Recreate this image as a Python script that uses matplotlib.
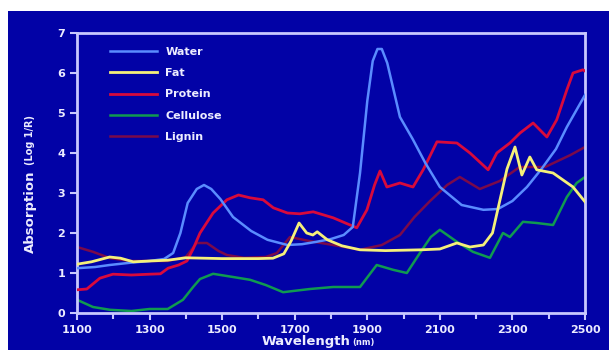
import matplotlib
matplotlib.use("Agg")
import matplotlib.pyplot as plt
from matplotlib.patches import Rectangle
from matplotlib.ticker import MultipleLocator

water_x = [1100, 1150, 1190, 1250, 1300, 1340, 1365, 1385, 1405, 1430, 1450, 1470, 1495, 1530, 1580,
           1625, 1680, 1720, 1760, 1800, 1835, 1860, 1880, 1900, 1915, 1928, 1940, 1955, 1990, 2025, 2060,
           2100, 2160, 2220, 2260, 2300, 2340, 2380, 2420, 2450, 2500]
water_y = [1.12, 1.15, 1.2, 1.26, 1.3, 1.35, 1.5, 2.0, 2.75, 3.1, 3.2, 3.1, 2.85, 2.4, 2.05,
           1.83, 1.7, 1.72, 1.78, 1.85, 1.95, 2.15, 3.5, 5.3, 6.3, 6.6, 6.6, 6.25, 4.9, 4.35, 3.75,
           3.15, 2.7, 2.58, 2.6, 2.8, 3.15, 3.6, 4.1, 4.65, 5.45]

fat_x = [1100, 1140, 1190, 1220, 1255, 1300, 1350, 1400, 1450, 1500, 1550, 1600, 1640, 1670, 1690,
         1712, 1733, 1750, 1762, 1790, 1830, 1880, 1950, 2050, 2100, 2147, 2183, 2220, 2245, 2260,
         2285, 2307, 2326, 2348, 2367, 2412, 2467, 2500]
fat_y = [1.22, 1.28, 1.4, 1.37, 1.28, 1.3, 1.32, 1.38, 1.37, 1.36, 1.36, 1.36, 1.37, 1.48, 1.8,
         2.25, 2.0, 1.95, 2.03, 1.83, 1.68, 1.58, 1.56, 1.58, 1.6, 1.75, 1.65, 1.7, 2.0, 2.6,
         3.6, 4.15, 3.45, 3.9, 3.58, 3.5, 3.15, 2.78]

protein_x = [1100, 1127, 1163, 1199, 1250, 1300, 1330, 1351, 1380, 1403, 1420, 1439, 1475, 1513, 1545,
             1577, 1613, 1641, 1680, 1714, 1751, 1806, 1871, 1899, 1920, 1935, 1954, 1990, 2026, 2054,
             2092, 2147, 2183, 2233, 2257, 2293, 2321, 2357, 2395, 2422, 2450, 2467, 2494, 2500]
protein_y = [0.58, 0.6, 0.87, 0.97, 0.95, 0.97, 0.98, 1.12, 1.2, 1.3, 1.6, 2.0, 2.5, 2.83, 2.95,
             2.88, 2.83, 2.63, 2.5, 2.48, 2.53, 2.38, 2.13, 2.58, 3.2, 3.55, 3.15, 3.25, 3.15, 3.58,
             4.28, 4.25, 4.0, 3.58, 4.0, 4.25, 4.5, 4.75, 4.4, 4.83, 5.58, 6.0, 6.08, 6.05]

cellulose_x = [1100, 1144, 1191, 1250, 1300, 1350, 1392, 1420, 1439, 1475, 1530, 1577, 1620, 1668, 1742,
               1806, 1880, 1905, 1926, 1971, 2009, 2045, 2075, 2100, 2147, 2191, 2238, 2274, 2293, 2329,
               2367, 2412, 2450, 2477, 2500]
cellulose_y = [0.33, 0.15, 0.08, 0.05, 0.1, 0.1, 0.33, 0.65, 0.85, 0.98, 0.9, 0.83, 0.7, 0.52, 0.6,
               0.65, 0.65, 0.95, 1.2, 1.08, 1.0, 1.5, 1.9, 2.08, 1.78, 1.53, 1.38, 2.0, 1.9, 2.28,
               2.25, 2.2, 2.9, 3.25, 3.4]

lignin_x = [1100, 1144, 1191, 1250, 1300, 1350, 1400, 1430, 1458, 1490, 1513, 1560, 1620, 1651, 1687,
            1740, 1806, 1880, 1940, 1990, 2030, 2073, 2120, 2155, 2210, 2265, 2320, 2390, 2460, 2500]
lignin_y = [1.65, 1.53, 1.37, 1.3, 1.3, 1.3, 1.4, 1.75, 1.75, 1.55, 1.45, 1.38, 1.4, 1.5, 1.9,
            1.8, 1.7, 1.58, 1.7, 1.95, 2.4, 2.8, 3.2, 3.4, 3.1, 3.3, 3.65, 3.65, 3.95, 4.15]

x_ticks = [1100, 1300, 1500, 1700, 1900, 2100, 2300, 2500]
y_ticks = [0, 1, 2, 3, 4, 5, 6, 7]

BG = "#0202a6"
FG = "#c8c8ff"
TXT = "#ececff"

fig = plt.figure(figsize=(6.09, 3.52), dpi=100)
fig.patch.set_facecolor("white")
fig.add_artist(Rectangle((8 / 609, 2 / 352), 1.05, 1 - 13 / 352, transform=fig.transFigure,
                         facecolor=BG, edgecolor="none", zorder=0))

ax = fig.add_axes([77 / 609, 39 / 352, (585 - 77) / 609, (313 - 33) / 352])
ax.set_facecolor(BG)

ax.plot(cellulose_x, cellulose_y, color="#109a50", lw=1.8, label="Cellulose", zorder=2)
ax.plot(lignin_x, lignin_y, color="#7a0a4a", lw=1.8, label="Lignin", zorder=2)
ax.plot(protein_x, protein_y, color="#d80a3c", lw=2.0, label="Protein", zorder=3)
ax.plot(water_x, water_y, color="#5a8cff", lw=1.8, label="Water", zorder=4)
ax.plot(fat_x, fat_y, color="#f5f07a", lw=2.0, label="Fat", zorder=5)

ax.set_xlim(1100, 2500)
ax.set_ylim(0, 7)
ax.set_xticks(x_ticks)
ax.set_yticks(y_ticks)
ax.xaxis.set_minor_locator(MultipleLocator(100))
for s in ax.spines.values():
    s.set_color(FG)
    s.set_linewidth(2)
ax.tick_params(colors=FG, width=1.5, length=5, labelcolor=TXT, labelsize=8)
ax.tick_params(which="minor", colors=FG, width=1.5, length=4)
for lab in ax.get_xticklabels() + ax.get_yticklabels():
    lab.set_fontweight("bold")

handles, labels = ax.get_legend_handles_labels()
order = ["Water", "Fat", "Protein", "Cellulose", "Lignin"]
hmap = dict(zip(labels, handles))
leg = ax.legend([hmap[k] for k in order], order, loc="upper left", bbox_to_anchor=(0.045, 0.985),
                frameon=False, handlelength=4.2, labelspacing=1.0,
                prop={"weight": "bold", "size": 8})
for t in leg.get_texts():
    t.set_color(TXT)

fig.text(306 / 609, 1 - 342 / 352, "Wavelength", color=TXT, fontsize=9.5, fontweight="bold",
         ha="center", va="center")
fig.text(352 / 609, 1 - 343 / 352, "(nm)", color=TXT, fontsize=6, fontweight="bold",
         ha="left", va="center")
fig.text(30 / 609, 1 - 212 / 352, "Absorption", color=TXT, fontsize=9.5, fontweight="bold",
         ha="center", va="center", rotation=90)
fig.text(30 / 609, 1 - 140 / 352, "(Log 1/R)", color=TXT, fontsize=7, fontweight="bold",
         ha="center", va="center", rotation=90)

fig.savefig("out.png", dpi=100, facecolor=fig.get_facecolor())
